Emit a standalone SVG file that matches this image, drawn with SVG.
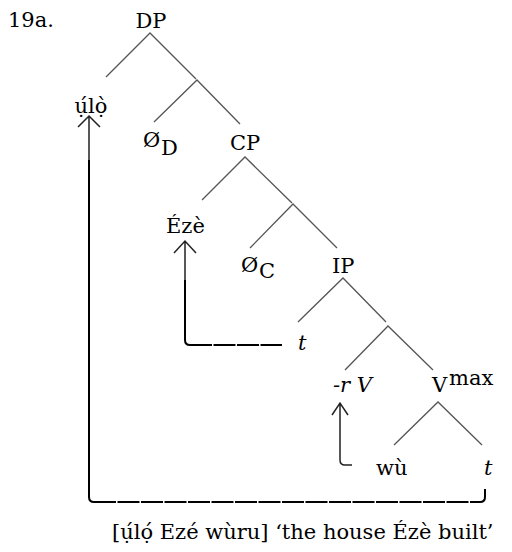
<svg xmlns="http://www.w3.org/2000/svg" width="512" height="552" viewBox="0 0 512 552">
<style>
text{font-family:"DejaVu Serif","Liberation Serif",serif;font-size:21px;fill:#000}
.it{font-style:italic}
.br{stroke:#555;stroke-width:1.3;fill:none}
.mv{stroke:#000;stroke-width:2;fill:none}
.hd{stroke:#222;stroke-width:1.5;fill:none}
.ds{stroke:#000;stroke-width:2.2;fill:none;stroke-dasharray:22 1.5}
</style>
<rect width="512" height="552" fill="#fff"/>
<text x="8" y="27">19a.</text>
<g id="DP"><text x="151" y="28" text-anchor="middle">DP</text></g>
<g id="ulo"><text x="91" y="113" text-anchor="middle">ụ́lọ̀</text></g>
<g id="0D"><text x="143" y="147">Ø</text><text x="161" y="155">D</text></g>
<g id="CP"><text x="230" y="150">CP</text></g>
<g id="Eze"><text x="166" y="233">Ézè</text></g>
<g id="0C"><text x="241" y="272">Ø</text><text x="259" y="278" font-size="19">C</text></g>
<g id="IP"><text x="332" y="273">IP</text></g>
<g id="t1"><text class="it" x="298" y="350">t</text></g>
<g id="rV"><text class="it" x="333" y="392">-r V</text></g>
<g id="Vmax"><text x="432" y="392">V</text><text x="449" y="385">max</text></g>
<g id="wu"><text x="376" y="475">wù</text></g>
<g id="t2"><text class="it" x="484" y="475">t</text></g>
<g id="connectors">
<path class="br" d="M106,77 L150,33 L196,79 M154,122 L197,80 L240,124 M202,200 L245,157 L292,203 M250,248 L293,204 L337,248 M298,322 L343,278 L386,322 M345,370 L388,326 L433,370 M394,445 L438,402 L482,445"/>
<path class="hd" d="M78,127 L89,116 L100,127 M89,116 V160"/>
<path class="mv" d="M89,160 V497 Q89,502 94,502"/>
<path class="ds" d="M94,502 H480"/>
<path class="mv" d="M480,502 Q485,502 485,497 V489"/>
<path class="hd" d="M174,253 L185,241 L196,253 M185,241 V280"/>
<path class="mv" d="M185,280 V340 Q185,345 190,345"/>
<path class="ds" d="M190,345 H282"/>
<path class="hd" d="M332,415 L340,403 L348,415 M340,403 V460 Q340,465 345,465 H352"/>
</g>
<text x="112" y="539">[ụ́lọ́ Ezé wùru]  ‘the house Ézè built’</text>
</svg>
